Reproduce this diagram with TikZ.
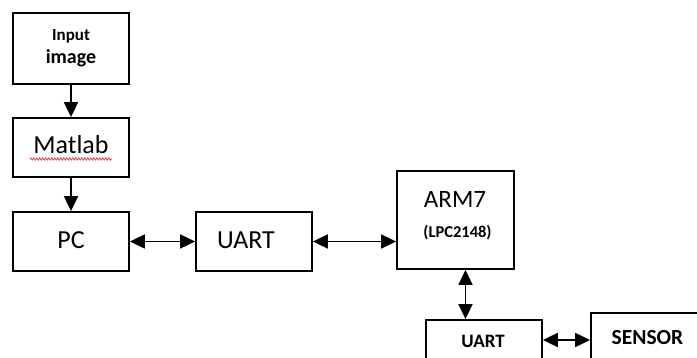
\documentclass[tikz,border=0pt]{standalone}
\usepackage{fontspec}
\setmainfont{Carlito}
\usetikzlibrary{arrows.meta,decorations.pathmorphing}
\definecolor{squig}{RGB}{228,70,70}
\begin{document}
\begin{tikzpicture}[x=1pt,y=-1pt,
  blk/.style={draw,line width=1.8pt,inner sep=0pt,fill=white},
  conn/.style={line width=1.8pt,-{Triangle[length=15pt,width=14pt]}},
  bconn/.style={line width=1.8pt,{Triangle[length=15pt,width=14pt]}-{Triangle[length=15pt,width=14pt]}},
  big/.style={font=\fontsize{26}{30}\selectfont,anchor=base},
  bsmall/.style={font=\bfseries\fontsize{#1}{#1}\selectfont,anchor=base}]
\useasboundingbox (0,0) rectangle (697,358);
\clip (0,0) rectangle (697,358);
% boxes
\node[blk,minimum width=116pt,minimum height=71pt] (inp) at (71,48.5) {};
\node[blk,minimum width=116pt,minimum height=59pt] (mat) at (71,147.5) {};
\node[blk,minimum width=116pt,minimum height=59pt] (pc) at (71,241.5) {};
\node[blk,minimum width=116pt,minimum height=59pt] (u1) at (254,241.5) {};
\node[blk,minimum width=117pt,minimum height=98pt] (arm) at (455.5,220) {};
\node[blk,minimum width=116pt,minimum height=59pt] (u2) at (484,349.5) {};
\node[blk,minimum width=118pt,minimum height=59pt] (sen) at (650,342.5) {};
% texts
\node[bsmall=17] (tin) at (71,41) {Input};
\node[bsmall=20] (tim) at (71,64) {image};
\node[big] (tmat) at (71,154) {Matlab};
\draw[squig,line width=0.8pt,decorate,decoration={snake,amplitude=1.1pt,segment length=3pt}] ([yshift=-5pt]tmat.base west) -- ([yshift=-5pt]tmat.base east);
\node[big] (tpc) at (71,249) {PC};
\node[big] (tu1) at (246,249) {UART};
\node[big,font=\fontsize{25}{30}\selectfont] (tarm) at (455,208) {ARM7};
\node[bsmall=16.5] (tlpc) at (457.5,238) {(LPC2148)};
\node[bsmall=19] (tu2) at (483,348) {UART};
\node[bsmall=21.5] (tsen) at (647.5,345) {SENSOR};
% connectors
\draw[conn] (inp.south) -- (mat.north);
\draw[conn] (mat.south) -- (pc.north);
\draw[bconn] (pc.east) -- (u1.west);
\draw[bconn] (u1.east) -- (u1.east -| arm.west);
\draw[bconn] ([xshift=10pt]arm.south) -- ([xshift=10pt]arm.south |- u2.north);
\draw[bconn] ([yshift=9.5pt]u2.east) -- ([yshift=9.5pt]u2.east -| sen.west);
\end{tikzpicture}
\end{document}
